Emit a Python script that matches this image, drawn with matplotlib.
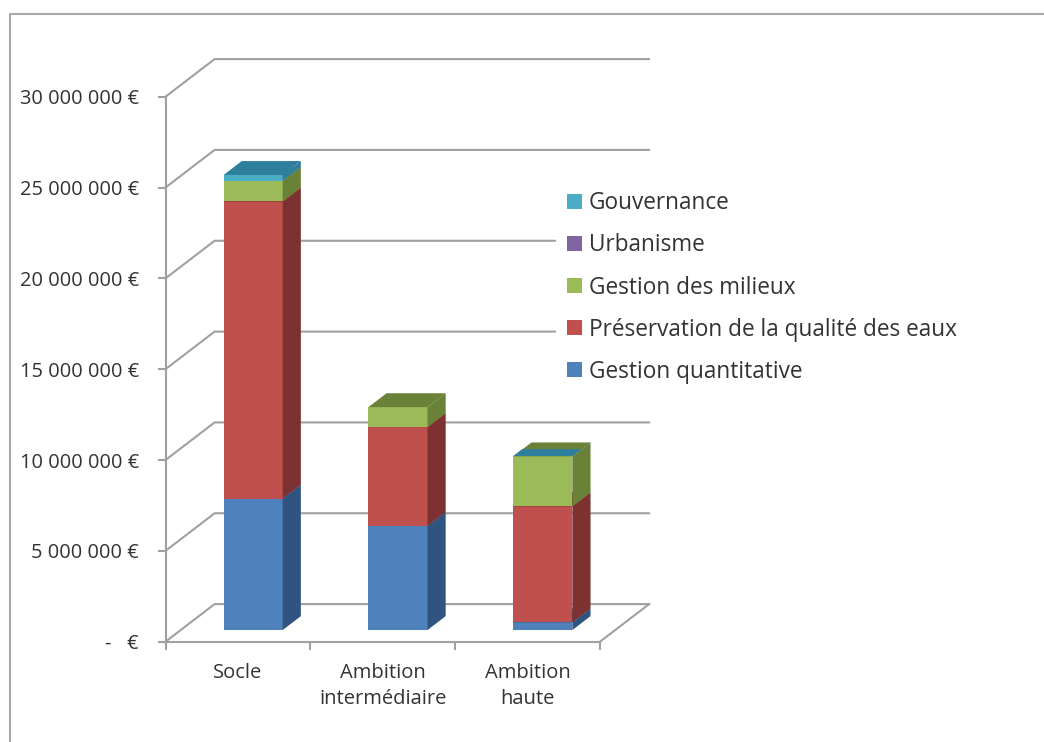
import matplotlib
matplotlib.use('Agg')
import matplotlib.pyplot as plt
from matplotlib.lines import Line2D
from matplotlib.patches import Polygon
import numpy as np

categories = ['Socle', 'Ambition\nintermédiaire', 'Ambition\nhaute']
gestion_quantitative = [7240000, 5730000, 420000]
preservation_eaux = [16350000, 5440000, 6390000]
gestion_milieux = [1130000, 1100000, 2750000]
urbanisme = [0, 0, 0]
gouvernance = [330000, 0, 20000]

serie_noms = ['Gestion quantitative', 'Préservation de la qualité des eaux',
              'Gestion des milieux', 'Urbanisme', 'Gouvernance']
series = [gestion_quantitative, preservation_eaux, gestion_milieux, urbanisme, gouvernance]
y_ticks = [0, 5000000, 10000000, 15000000, 20000000, 25000000, 30000000]
y_labels = ['-   €', '5 000 000 €', '10 000 000 €', '15 000 000 €',
            '20 000 000 €', '25 000 000 €', '30 000 000 €']

couleurs = ['#4F81BD', '#C0504D', '#9BBB59', '#8064A2', '#4BACC6']
couleurs_cote = ['#2F5480', '#7D3130', '#6A8238', '#54416E', '#2E7F9B']

W, H = 1044, 742
plt.rcParams['font.family'] = ['Open Sans', 'DejaVu Sans']
fig = plt.figure(figsize=(W / 100, H / 100), dpi=100)
ax = fig.add_axes([165.5 / W, 1 - 641.7 / H, 434.5 / W, 545 / H])
ax.set_xlim(0, 3)
ax.set_ylim(0, 30000000)

# profondeur du mur du fond, en unites des axes
prof_x = 0.339
prof_y = 2070000
grille = '#A0A0A0'
texte = '#333333'
trait = 1.5

# grille sur le mur et le plancher
for v in y_ticks:
    ax.plot([0, prof_x, 3 + prof_x], [v, v + prof_y, v + prof_y], color=grille, lw=trait,
            clip_on=False, zorder=1, solid_joinstyle='miter')
ax.plot([3, 3 + prof_x], [0, prof_y], color=grille, lw=trait, clip_on=False, zorder=1)

# barres empilees : face avant avec ax.bar, cote et dessus en polygones
largeur = 0.408
debut = 0.31
fin = 0.68
x = np.arange(len(categories)) + 0.5 + debut * prof_x
dx_barre = (fin - debut) * prof_x
dy_barre = (fin - debut) * prof_y
decal_y = debut * prof_y
cumul = np.zeros(len(categories))

for valeurs, nom, c, c2 in zip(series, serie_noms, couleurs, couleurs_cote):
    valeurs = np.array(valeurs, dtype=float)
    ax.bar(x, valeurs, largeur, bottom=cumul + decal_y, color=c, label=nom, zorder=3, clip_on=False)
    for i in range(len(x)):
        if valeurs[i] == 0:
            continue
        xd = x[i] + largeur / 2
        xg = x[i] - largeur / 2
        bas = cumul[i] + decal_y
        haut = bas + valeurs[i]
        ax.add_patch(Polygon([(xd, bas), (xd + dx_barre, bas + dy_barre),
                              (xd + dx_barre, haut + dy_barre), (xd, haut)],
                             color=c2, lw=0, zorder=3, clip_on=False))
        # dessus de la pile ; une tranche tres fine ne couvre que l'avant
        part = 0.5 if valeurs[i] < 100000 else 1
        ax.add_patch(Polygon([(xg, haut), (xd, haut),
                              (xd + part * dx_barre, haut + part * dy_barre),
                              (xg + part * dx_barre, haut + part * dy_barre)],
                             color=c2, lw=0, zorder=3, clip_on=False))
    cumul += valeurs

for s in ['top', 'right']:
    ax.spines[s].set_visible(False)
for s in ['left', 'bottom']:
    ax.spines[s].set_color(grille)
    ax.spines[s].set_linewidth(trait)

ax.set_yticks(y_ticks, y_labels)
ax.tick_params(axis='y', length=6, width=trait, color=grille, pad=13, labelsize=14.4, labelcolor=texte)
ax.set_xticks([0, 1, 2, 3], ['', '', '', ''])
ax.tick_params(axis='x', length=6, width=trait, color=grille)
ax.set_xticks([0.5, 1.5, 2.5], categories, minor=True)
ax.tick_params(axis='x', which='minor', length=0, pad=15.5, labelsize=14.5, labelcolor=texte)
for t in ax.get_xticklabels(minor=True):
    t.set_linespacing(1.37)

poignees, noms = ax.get_legend_handles_labels()
leg = ax.legend(poignees[::-1], noms[::-1], loc='upper left',
                bbox_to_anchor=(555.5 / W, 1 - 180 / H), bbox_transform=fig.transFigure,
                fontsize=16.3, frameon=True, facecolor='white', edgecolor='none', framealpha=1,
                handlelength=0.66, handleheight=0.66, handletextpad=0.31,
                labelspacing=0.8, borderpad=0.5, borderaxespad=0, fancybox=False)
leg.set_zorder(2)
for t in leg.get_texts():
    t.set_color(texte)

# cadre du graphique
fig.add_artist(Line2D([9.5 / W, 9.5 / W, 1], [0, 1 - 13.5 / H, 1 - 13.5 / H], color='#A8A8A8', lw=1.5))

fig.savefig('out.png', dpi=100)
